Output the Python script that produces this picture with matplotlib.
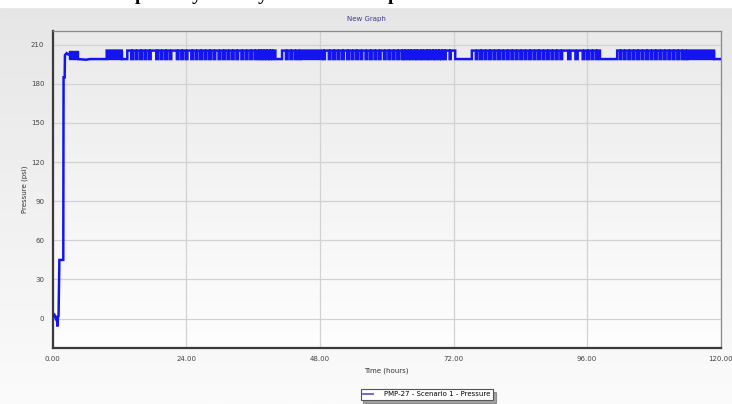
import numpy as np
import matplotlib
matplotlib.use("Agg")
import matplotlib.pyplot as plt
from matplotlib.lines import Line2D

# Pump discharge pressure, start-up phase (hours, psi)
startup_t = [0.0, 0.3, 0.5, 0.7, 0.85, 0.95, 1.05, 1.2, 1.9, 1.95, 2.15, 2.2, 2.5, 2.8, 3.0, 4.5, 6.0, 6.7, 9.6]
startup_p = [2.0, 3.0, 0.5, 2.0, -6.0, 1.0, 2.0, 45.0, 45.0, 185.0, 185.0, 202.0, 203.5, 202.5, 203.0, 199.0, 198.5, 199.0, 199.0]

# Pump cycling between the two operating pressures
high_psi = 205.5
low_psi = 199.0
cycling_start = 9.7

# Low-pressure spells once cycling has begun (start, end), hours
low_spells = [
    (12.4, 13.4),
    (14.1, 14.4), (14.9, 15.2), (15.7, 16.0), (16.5, 16.8), (17.3, 17.6), (18.6, 18.9), (19.4, 19.7),
    (20.2, 20.5), (21.0, 21.3), (22.3, 22.6), (23.1, 23.4), (23.9, 24.2), (24.9, 25.2), (25.7, 26.0),
    (26.5, 26.8), (27.3, 27.6), (28.1, 28.4), (28.9, 29.2), (29.8, 30.1), (30.6, 30.9), (31.4, 31.7),
    (32.2, 32.5), (33.0, 33.3), (33.9, 34.2), (34.7, 35.0), (35.5, 35.8), (36.3, 36.5),
    (36.9, 37.1), (37.4, 37.6), (37.9, 38.1), (38.4, 38.6), (38.9, 39.1), (39.4, 39.6),
    (40.0, 41.2), (41.9, 42.2), (42.7, 43.0), (43.5, 43.8), (44.2, 44.5),
    (48.6, 48.9), (49.6, 49.9), (50.4, 50.7), (51.2, 51.5), (52.0, 52.3), (52.9, 53.2), (53.7, 54.0),
    (54.5, 54.8), (55.3, 55.6), (56.2, 56.5), (57.0, 57.3), (57.8, 58.1), (58.6, 58.9), (59.5, 59.8),
    (60.3, 60.6), (61.1, 61.4), (61.9, 62.2),
    (62.7, 62.9), (63.2, 63.4), (63.8, 64.0), (64.3, 64.5), (64.9, 65.1), (65.4, 65.6), (66.0, 66.2),
    (66.5, 66.7), (67.1, 67.3), (67.6, 67.8), (68.2, 68.4), (68.7, 68.9), (69.3, 69.5), (69.8, 70.0),
    (70.4, 70.6), (71.3, 71.5),
    (72.3, 75.3),
    (76.0, 76.3), (76.8, 77.1), (77.6, 77.9), (78.4, 78.7), (79.2, 79.5), (80.0, 80.3), (80.8, 81.1),
    (81.6, 81.9), (82.4, 82.7), (83.2, 83.5), (84.0, 84.3), (84.8, 85.1), (85.6, 85.9), (86.4, 86.7),
    (87.2, 87.5), (88.0, 88.3), (88.8, 89.1), (89.6, 89.9), (90.4, 90.7), (91.2, 91.5),
    (92.6, 93.0), (93.9, 94.3),
    (95.2, 95.5), (96.0, 96.3), (96.8, 97.1), (97.6, 97.9),
    (98.3, 101.4),
    (101.9, 102.1), (102.6, 102.9), (103.4, 103.7), (104.2, 104.5), (105.0, 105.3), (105.8, 106.1),
    (106.6, 106.9), (107.4, 107.7), (108.2, 108.5), (109.0, 109.3), (109.8, 110.1), (110.6, 110.9),
    (111.4, 111.7), (112.2, 112.5), (113.0, 113.3), (113.7, 114.0),
    (118.8, 120.0),
]

# Spells of very rapid on/off cycling (start, end), hours
rapid_blocks = [(3.0, 4.5), (9.7, 12.4), (44.5, 48.6), (114.0, 118.8)]

x_ticks = [0, 24, 48, 72, 96, 120]
y_ticks = [0, 30, 60, 90, 120, 150, 180, 210]

line_color = "#1414f0"

fig = plt.figure(figsize=(7.32, 4.04), dpi=100)

# soft grey gradient behind everything
bg = fig.add_axes([0, 0, 1, 1], zorder=-10)
grad = np.linspace(0, 1, 256).reshape(-1, 1)
bg.imshow(grad, aspect="auto", cmap=matplotlib.colors.LinearSegmentedColormap.from_list("bg", ["#e6e6e6", "#fbfbfb"]),
          extent=[0, 1, 0, 1], origin="upper")
bg.set_xlim(0, 1)
bg.set_ylim(0, 1)
bg.set_axis_off()
# white strip above the chart panel
bg.axhspan(0.982, 1.0, color="white", zorder=2)

# descenders of the caption line above the chart
for xf, ch in [(0.191, "p"), (0.269, "y"), (0.359, "y"), (0.537, "p")]:
    fig.text(xf, 1.0, ch, fontsize=14, fontweight="bold", family="Liberation Serif",
             color="black", ha="center", va="baseline")

ax = fig.add_axes([0.072, 0.1394, 0.9126, 0.7851])
ax.set_xlim(0, 120)
ax.set_ylim(-22.3, 220.9)
ax.imshow(grad, aspect="auto", cmap=matplotlib.colors.LinearSegmentedColormap.from_list("pa", ["#eaeaea", "#fefefe"]),
          extent=[0, 120, -22.3, 220.9], origin="upper", zorder=0)

# step trace: start-up points, then high pressure interrupted by the low spells
t = list(startup_t) + [cycling_start, cycling_start]
p = list(startup_p) + [low_psi, high_psi]
for s, e in low_spells:
    t += [s, s, e, e]
    p += [high_psi, low_psi, low_psi, high_psi if e < 120 else low_psi]
ax.plot(t, p, color=line_color, lw=1.8, zorder=3, solid_joinstyle="miter")
for s, e in rapid_blocks:
    ax.fill_between([s, e], [low_psi, low_psi], [high_psi, high_psi],
                    facecolor=line_color, edgecolor=line_color, lw=1.0, zorder=4)

ax.set_xticks(x_ticks)
ax.set_xticklabels([f"{v:.2f}" for v in x_ticks])
ax.set_yticks(y_ticks)
ax.grid(True, color="#d2d2d2", lw=0.9, zorder=1)
ax.set_axisbelow(True)
ax.tick_params(axis="both", length=0, labelsize=5, colors="#444444", pad=6)
for side in ["left", "bottom"]:
    ax.spines[side].set_color("#3a3a3a")
    ax.spines[side].set_linewidth(1.6)
for side in ["top", "right"]:
    ax.spines[side].set_color("#8a8a8a")
    ax.spines[side].set_linewidth(0.9)

ax.set_xlabel("Time (hours)", fontsize=5, color="#333333", labelpad=4)
ax.set_ylabel("Pressure (psi)", fontsize=5, color="#333333", labelpad=2)
fig.text(0.5, 0.953, "New Graph", fontsize=5, color="#3a3a8a", ha="center", va="center")

handle = Line2D([], [], color="#6a5acd", lw=1.3)
leg = fig.legend([handle], ["PMP-27 - Scenario 1 - Pressure"], loc="center",
                 fontsize=5, frameon=True, fancybox=False, shadow=True, handlelength=1.4,
                 handletextpad=1.6, borderpad=0.35)
leg.get_frame().set_edgecolor("#555555")
leg.get_frame().set_linewidth(0.8)
leg.set_bbox_to_anchor((0.583, 0.024), transform=fig.transFigure)

fig.savefig("out.png", dpi=100)
